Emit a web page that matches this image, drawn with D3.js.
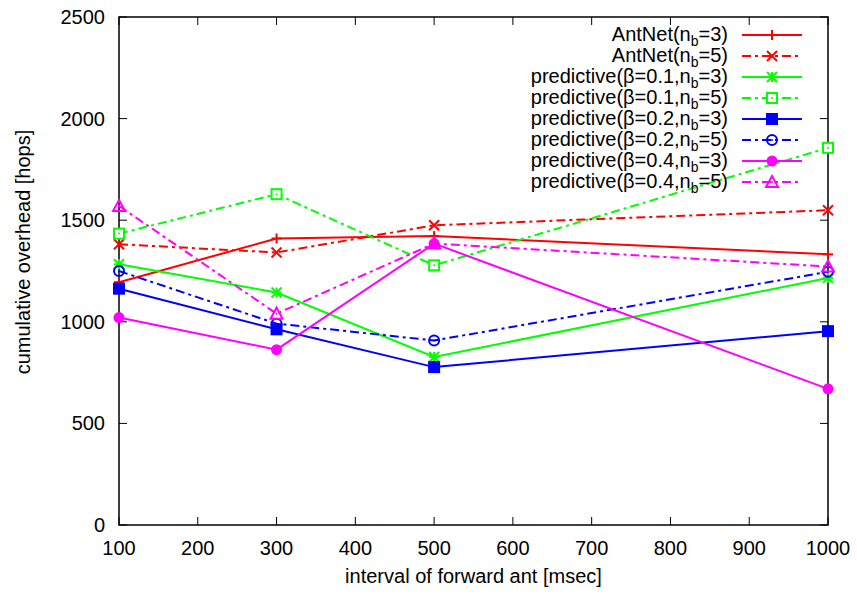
<!DOCTYPE html>
<html><head><meta charset="utf-8">
<script src="https://cdn.jsdelivr.net/npm/d3@7"></script>
<style>body{margin:0;background:#fff}svg{display:block}text{font-family:"Liberation Sans",Arial,sans-serif}</style>
</head><body>
<script>
const xValues = [100, 300, 500, 1000];
const seriesNames = [
  ["AntNet(n","b","=3)"],
  ["AntNet(n","b","=5)"],
  ["predictive(β=0.1,n","b","=3)"],
  ["predictive(β=0.1,n","b","=5)"],
  ["predictive(β=0.2,n","b","=3)"],
  ["predictive(β=0.2,n","b","=5)"],
  ["predictive(β=0.4,n","b","=3)"],
  ["predictive(β=0.4,n","b","=5)"]
];
const antnet3 = [1195, 1410, 1422, 1332];
const antnet5 = [1382, 1341, 1475, 1549];
const pred01n3 = [1283, 1144, 827, 1216];
const pred01n5 = [1434, 1628, 1278, 1856];
const pred02n3 = [1163, 963, 777, 954];
const pred02n5 = [1250, 991, 908, 1246];
const pred04n3 = [1021, 863, 1385, 670];
const pred04n5 = [1570, 1040, 1385, 1272];
const seriesValues = [antnet3, antnet5, pred01n3, pred01n5, pred02n3, pred02n5, pred04n3, pred04n5];
const seriesColors = ["#ff0000","#ff0000","#00ff00","#00ff00","#0000ff","#0000ff","#ff00ff","#ff00ff"];
const seriesDashed = [false,true,false,true,false,true,false,true];
const seriesMarkers = ["plus","cross","star","squareOpen","squareFilled","circleOpen","circleFilled","triangleOpen"];
const xTicks = [100,200,300,400,500,600,700,800,900,1000];
const yTicks = [0,500,1000,1500,2000,2500];
const xLabel = "interval of forward ant [msec]";
const yLabel = "cumulative overhead [hops]";

const W = 857, H = 594;
const L = 119, R = 828, T = 17, B = 525;
const svg = d3.select("body").append("svg").attr("width", W).attr("height", H);
const x = d3.scaleLinear().domain([100, 1000]).range([L, R]);
const y = d3.scaleLinear().domain([0, 2500]).range([B, T]);
const FS = 20;

// ticks (all four sides, inward)
const tk = 8;
const g = svg.append("g");
xTicks.forEach(v => {
  g.append("line").attr("x1", x(v)).attr("x2", x(v)).attr("y1", B).attr("y2", B - tk).attr("stroke", "#000");
  g.append("line").attr("x1", x(v)).attr("x2", x(v)).attr("y1", T).attr("y2", T + tk).attr("stroke", "#000");
  g.append("text").attr("x", x(v)).attr("y", 555).attr("text-anchor", "middle").attr("font-size", FS).text(v);
});
yTicks.forEach(v => {
  g.append("line").attr("x1", L).attr("x2", L + tk).attr("y1", y(v)).attr("y2", y(v)).attr("stroke", "#000");
  g.append("line").attr("x1", R).attr("x2", R - tk).attr("y1", y(v)).attr("y2", y(v)).attr("stroke", "#000");
  g.append("text").attr("x", 105).attr("y", y(v) + 7).attr("text-anchor", "end").attr("font-size", FS).text(v);
});
svg.append("rect").attr("x", L).attr("y", T).attr("width", R - L).attr("height", B - T)
  .attr("fill", "none").attr("stroke", "#000").attr("stroke-width", 1.5);

svg.append("text").attr("x", (L + R) / 2).attr("y", 583).attr("text-anchor", "middle").attr("font-size", FS).text(xLabel);
svg.append("text").attr("transform", `translate(30,252) rotate(-90)`).attr("text-anchor", "middle").attr("font-size", FS).text(yLabel);

function marker(sel, type, cx, cy, color) {
  const s = 5;
  const gg = sel.append("g").attr("transform", `translate(${cx},${cy})`);
  const ln = (a, b, c, d) => gg.append("line").attr("x1", a).attr("y1", b).attr("x2", c).attr("y2", d).attr("stroke", color).attr("stroke-width", 2);
  const dot = () => gg.append("circle").attr("r", 1).attr("fill", color);
  if (type === "plus") { ln(-s, 0, s, 0); ln(0, -s, 0, s); }
  else if (type === "cross") { ln(-s, -s, s, s); ln(-s, s, s, -s); }
  else if (type === "star") { ln(-s, 0, s, 0); ln(0, -s, 0, s); ln(-s, -s, s, s); ln(-s, s, s, -s); }
  else if (type === "squareOpen") { gg.append("rect").attr("x", -s).attr("y", -s).attr("width", 2 * s).attr("height", 2 * s).attr("fill", "#fff").attr("stroke", color).attr("stroke-width", 2); dot(); }
  else if (type === "squareFilled") { gg.append("rect").attr("x", -s - 1).attr("y", -s - 1).attr("width", 2 * s + 2).attr("height", 2 * s + 2).attr("fill", color); }
  else if (type === "circleOpen") { gg.append("circle").attr("r", s).attr("fill", "none").attr("stroke", color).attr("stroke-width", 2); dot(); }
  else if (type === "circleFilled") { gg.append("circle").attr("r", s + 0.5).attr("fill", color); }
  else if (type === "triangleOpen") { gg.append("path").attr("d", `M0,${-s - 1}L${s + 1},${s}L${-s - 1},${s}Z`).attr("fill", "none").attr("stroke", color).attr("stroke-width", 2); dot(); }
}

const line = d3.line().x(d => x(d[0])).y(d => y(d[1]));
const DASH = "9,4,3,4";
seriesValues.forEach((vals, i) => {
  const pts = xValues.map((xv, j) => [xv, vals[j]]);
  svg.append("path").attr("d", line(pts)).attr("fill", "none").attr("stroke", seriesColors[i]).attr("stroke-width", 2)
    .attr("stroke-dasharray", seriesDashed[i] ? DASH : null);
  pts.forEach(p => marker(svg, seriesMarkers[i], x(p[0]), y(p[1]), seriesColors[i]));
});

// legend
const lgX = 728, lgY0 = 35, lgDy = 21;
seriesNames.forEach((nm, i) => {
  const yy = lgY0 + i * lgDy;
  const t = svg.append("text").attr("x", lgX).attr("y", yy + 6).attr("text-anchor", "end").attr("font-size", FS);
  t.append("tspan").text(nm[0]);
  t.append("tspan").attr("font-size", 14).attr("dy", 5).text(nm[1]);
  t.append("tspan").attr("dy", -5).text(nm[2]);
  svg.append("line").attr("x1", 742).attr("x2", 802).attr("y1", yy).attr("y2", yy).attr("stroke", seriesColors[i]).attr("stroke-width", 2)
    .attr("stroke-dasharray", seriesDashed[i] ? DASH : null);
  marker(svg, seriesMarkers[i], 772, yy, seriesColors[i]);
});
</script>
</body></html>
